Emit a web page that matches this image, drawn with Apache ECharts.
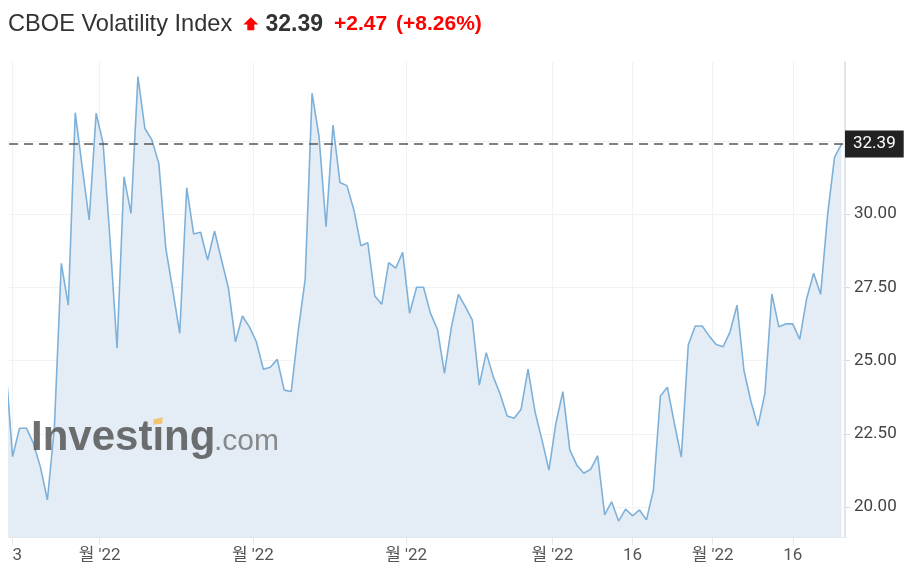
<!DOCTYPE html>
<html><head><meta charset="utf-8">
<script src="https://cdn.jsdelivr.net/npm/echarts@6/dist/echarts.min.js"></script>
<style>html,body{margin:0;padding:0;background:#fff}#c{width:918px;height:578px}</style>
</head><body><div id="c"></div>
<script>
// ---- data (daily closes, one per weekday starting at startDate) ----
const startDate = '2022-04-12';
const values = [
  24.9, 21.72, 22.69, 22.69, 22.17, 21.37, 20.24, 22.7, 28.32, 26.89,
  33.46, 31.6, 29.8, 33.44, 32.41, 29.1, 25.42, 31.27, 30.02, 34.69,
  32.92, 32.53, 31.73, 28.83, 27.4, 25.93, 30.9, 29.32, 29.38, 28.43,
  29.42, 28.43, 27.46, 25.64, 26.52, 26.15, 25.64, 24.7, 24.77, 25.04,
  23.99, 23.94, 26.0, 27.75, 34.12, 32.64, 29.57, 33.04, 31.08, 30.97,
  30.14, 28.92, 29.02, 27.2, 26.92, 28.34, 28.15, 28.69, 26.61, 27.5,
  27.5, 26.61, 26.06, 24.56, 26.15, 27.26, 26.84, 26.38, 24.16, 25.27,
  24.45, 23.85, 23.11, 23.03, 23.34, 24.71, 23.25, 22.29, 21.26, 22.86,
  23.94, 21.95, 21.43, 21.15, 21.29, 21.75, 19.73, 20.18, 19.52, 19.93,
  19.70, 19.9, 19.56, 20.58, 23.79, 24.09, 22.86, 21.7, 25.53, 26.18,
  26.18, 25.84, 25.55, 25.47, 25.98, 26.89, 24.65, 23.6, 22.76, 23.88,
  27.27, 26.15, 26.25, 26.25, 25.72, 27.12, 27.98, 27.26, 29.97, 31.94,
  32.39
];
const tickDates   = ['2022-04-13','2022-05-02','2022-06-01','2022-07-01','2022-08-01','2022-08-16','2022-09-01','2022-09-16'];
const tickLabels  = ['13', "월 '22", "월 '22", "월 '22", "월 '22", '16', "월 '22", '16'];
const tickIsMonth = [false, true, true, true, true, false, true, false];
const yLabelValues = [20, 22.5, 25, 27.5, 30];
const yGridValues  = [20, 22.5, 25, 27.5, 30, 32.5];
const titleText = 'CBOE Volatility Index';
const lastValue = 32.39;
const changeText = '+2.47';
const changePctText = '(+8.26%)';

// ---- build dates (weekdays) ----
const dates = [];
{
  const d = new Date(startDate + 'T00:00:00Z');
  while (dates.length < values.length) {
    const wd = d.getUTCDay();
    if (wd !== 0 && wd !== 6) dates.push(d.toISOString().slice(0, 10));
    d.setUTCDate(d.getUTCDate() + 1);
  }
}
const tickPos = tickDates.map((t, k) => dates.indexOf(t) - (tickIsMonth[k] ? 0.5 : 0));
const labelByPos = {};
tickPos.forEach((p, k) => { labelByPos[p.toFixed(1)] = tickLabels[k]; });
const seriesData = values.map((v, i) => [i, v]);

const axisFont = 'Roboto, "Noto Sans CJK KR", sans-serif';
const titleFont = '"Liberation Sans", Arial, sans-serif';

const chart = echarts.init(document.getElementById('c'), null, { renderer: 'canvas' });
chart.setOption({
  animation: false,
  backgroundColor: '#fff',
  grid: { left: 8, right: 73, top: 62, bottom: 41, containLabel: false },
  xAxis: {
    type: 'value',
    min: 0.5,
    max: values.length - 0.5,
    axisLine: { show: true, lineStyle: { color: '#e2e7ed', width: 1 } },
    axisTick: { show: true, customValues: tickPos, length: 8, lineStyle: { color: '#e8e8e8' } },
    axisLabel: {
      show: true, customValues: tickPos, margin: 10,
      color: '#555', fontSize: 17, fontFamily: axisFont,
      formatter: v => labelByPos[Number(v).toFixed(1)] || ''
    },
    splitLine: { show: true, lineStyle: { color: '#f2f2f2', width: 1 } }
  },
  yAxis: {
    type: 'value',
    position: 'right',
    min: 18.976,
    max: 35.19,
    axisLine: { show: true, lineStyle: { color: '#e2e6ea', width: 2 } },
    axisTick: { show: true, customValues: yGridValues, length: 5, lineStyle: { color: '#dcdcdc' } },
    axisLabel: {
      show: true, customValues: yLabelValues, margin: 9,
      color: '#444', fontSize: 17, fontFamily: axisFont,
      formatter: v => Number(v).toFixed(2)
    },
    splitLine: { show: true, lineStyle: { color: '#f2f2f2', width: 1 } }
  },
  series: [{
    type: 'line',
    data: seriesData,
    symbol: 'none',
    clip: true,
    lineStyle: { color: '#7eb1da', width: 1.6 },
    areaStyle: { color: '#e4edf5', opacity: 1, origin: 'start' },
    emphasis: { disabled: true },
    markLine: {
      silent: true,
      symbol: ['none', 'none'],
      animation: false,
      lineStyle: { color: '#555', type: [9, 6], width: 1.5 },
      label: {
        show: true, position: 'end', distance: 0,
        formatter: () => lastValue.toFixed(2),
        color: '#fff', backgroundColor: '#222',
        fontSize: 17, fontFamily: axisFont,
        padding: [5, 8, 4, 8], lineHeight: 18
      },
      data: [{ yAxis: lastValue }]
    }
  }],
  graphic: [
    { type: 'text', z: 100, silent: true,
      style: { x: 8, y: 24.4, text: titleText, fill: '#333', font: '23.6px ' + titleFont, verticalAlign: 'middle' } },
    { type: 'polygon', z: 100, silent: true,
      shape: { points: [[250.8,17.3],[258.3,24.5],[254.3,24.5],[254.3,30.3],[247.3,30.3],[247.3,24.5],[243.3,24.5]] },
      style: { fill: '#f00' } },
    { type: 'text', z: 100, silent: true,
      style: { x: 265.5, y: 24.8, text: lastValue.toFixed(2), fill: '#333', font: 'bold 23px ' + titleFont, verticalAlign: 'middle' } },
    { type: 'text', z: 100, silent: true,
      style: { x: 334, y: 24.3, text: changeText, fill: '#f00', font: 'bold 21px ' + titleFont, verticalAlign: 'middle' } },
    { type: 'text', z: 100, silent: true,
      style: { x: 396, y: 24.3, text: changePctText, fill: '#f00', font: 'bold 21px ' + titleFont, verticalAlign: 'middle' } },
    // watermark
    { type: 'text', z: 90, silent: true,
      style: { x: 31, y: 438, text: 'Investing', fill: 'rgba(90,90,90,0.88)', font: 'bold 42px ' + titleFont, verticalAlign: 'middle' } },
    { type: 'text', z: 90, silent: true,
      style: { x: 214, y: 442, text: '.com', fill: 'rgba(115,115,115,0.82)', font: '30px ' + titleFont, verticalAlign: 'middle' } },
    { type: 'polygon', z: 91, silent: true,
      shape: { points: [[153.5,419.5],[162.5,417.3],[162.5,423.2],[153.5,424.8]] },
      style: { fill: '#f2c46c' } },
    // clip the first (partially hidden) axis label like the original
    { type: 'rect', z: 95, silent: true,
      shape: { x: 0, y: 546, width: 10, height: 24 },
      style: { fill: '#fff' } }
  ]
});
</script>
</body></html>
